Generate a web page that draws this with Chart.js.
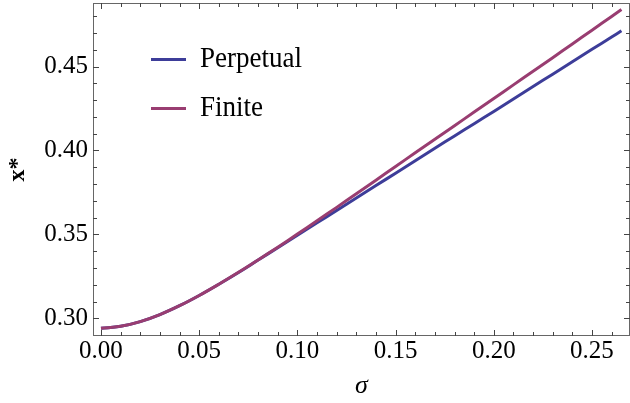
<!DOCTYPE html>
<html>
<head>
<meta charset="utf-8">
<script src="https://cdn.jsdelivr.net/npm/chart.js@4"></script>
<style>
  html, body { margin: 0; padding: 0; background: #fff; }
  #wrap { width: 630px; height: 403px; }
</style>
</head>
<body>
<div id="wrap"><canvas id="chart" width="630" height="403"></canvas></div>
<script>
// values
const sigma = [0.00, 0.01, 0.02, 0.03, 0.04, 0.05, 0.06, 0.07, 0.08, 0.09,
               0.10, 0.11, 0.12, 0.13, 0.14, 0.15, 0.16, 0.17, 0.18, 0.19,
               0.20, 0.21, 0.22, 0.23, 0.24, 0.25, 0.26, 0.265];
const perpetual = [0.2940, 0.2952, 0.2980, 0.3022, 0.3075, 0.3136, 0.3203, 0.3273, 0.3347, 0.3421,
                   0.3495, 0.3569, 0.3643, 0.3717, 0.3791, 0.3865, 0.3939, 0.4013, 0.4087, 0.4160,
                   0.4233, 0.4307, 0.4381, 0.4455, 0.4529, 0.4603, 0.4676, 0.4713];
const finite = [0.2940, 0.2952, 0.2980, 0.3022, 0.3075, 0.3136, 0.3203, 0.3274, 0.3348, 0.3424,
                0.3502, 0.3581, 0.3661, 0.3742, 0.3823, 0.3905, 0.3986, 0.4067, 0.4148, 0.4229,
                0.4310, 0.4391, 0.4472, 0.4553, 0.4635, 0.4717, 0.4799, 0.4840];
const seriesNames = ['Perpetual', 'Finite'];
const xTicks = [0.00, 0.05, 0.10, 0.15, 0.20, 0.25];
const yTicks = [0.30, 0.35, 0.40, 0.45];

const toPoints = ys => sigma.map((s, i) => ({ x: s, y: ys[i] }));

// box frame with inward major/minor ticks on all four sides
const framePlugin = {
  id: 'frame',
  afterDatasetsDraw(chart) {
    const { ctx, chartArea: a, scales: { x, y } } = chart;
    ctx.save();
    ctx.strokeStyle = '#666';
    ctx.lineWidth = 1;
    ctx.strokeRect(a.left + 0.5, a.top + 0.5, a.right - a.left - 1, a.bottom - a.top - 1);
    ctx.strokeStyle = '#444';
    ctx.beginPath();
    for (let k = 0; k <= 27; k++) {
      const v = k / 100;
      const px = Math.round(x.getPixelForValue(v)) + 0.5;
      if (px <= a.left + 1 || px >= a.right - 1) continue;
      const len = k % 5 === 0 ? 6 : 4;
      ctx.moveTo(px, a.bottom); ctx.lineTo(px, a.bottom - len);
      ctx.moveTo(px, a.top); ctx.lineTo(px, a.top + len);
    }
    for (let k = 29; k <= 48; k++) {
      const v = k / 100;
      const py = Math.round(y.getPixelForValue(v)) + 0.5;
      if (py <= a.top + 1 || py >= a.bottom - 1) continue;
      const len = k % 5 === 0 ? 6 : 4;
      ctx.moveTo(a.left, py); ctx.lineTo(a.left + len, py);
      ctx.moveTo(a.right, py); ctx.lineTo(a.right - len, py);
    }
    ctx.stroke();
    ctx.restore();
  }
};

// legend drawn inside the plot area
const insideLegend = {
  id: 'insideLegend',
  afterDatasetsDraw(chart) {
    const { ctx, chartArea: a } = chart;
    ctx.save();
    chart.data.datasets.forEach((ds, i) => {
      const ly = a.top + 56.5 + i * 49;
      ctx.strokeStyle = ds.borderColor;
      ctx.lineWidth = 3;
      ctx.beginPath();
      ctx.moveTo(a.left + 58, ly);
      ctx.lineTo(a.left + 93, ly);
      ctx.stroke();
      ctx.save();
      ctx.translate(a.left + 107, a.top + 64 + i * 48.5);
      ctx.scale(0.9, 1);
      ctx.fillStyle = '#000';
      ctx.font = '30px "Liberation Serif"';
      ctx.textBaseline = 'alphabetic';
      ctx.fillText(ds.label, 0, 0);
      ctx.restore();
    });
    ctx.restore();
  }
};

const noEdgePadding = s => {
  s.paddingTop = 0; s.paddingBottom = 0;
  s.paddingLeft = 0; s.paddingRight = 0;
};

new Chart(document.getElementById('chart').getContext('2d'), {
  type: 'line',
  data: {
    datasets: [{
      label: seriesNames[0],
      data: toPoints(perpetual),
      borderColor: '#3d3d99',
      borderWidth: 3,
      pointRadius: 0,
      tension: 0.4,
      fill: false,
      order: 1
    }, {
      label: seriesNames[1],
      data: toPoints(finite),
      borderColor: '#993d71',
      borderWidth: 3,
      pointRadius: 0,
      tension: 0.4,
      fill: false,
      order: 0
    }]
  },
  options: {
    responsive: false,
    devicePixelRatio: 1,
    animation: false,
    layout: { padding: { top: 3, right: 0, bottom: 0, left: 0 } },
    plugins: {
      legend: { display: false },
      tooltip: { enabled: false }
    },
    scales: {
      x: {
        type: 'linear',
        min: -0.00407,
        max: 0.26935,
        grid: { display: false, drawTicks: false },
        border: { display: false },
        afterBuildTicks: s => { s.ticks = xTicks.map(v => ({ value: v })); },
        afterFit: s => { s.height = 67; noEdgePadding(s); },
        ticks: {
          padding: 0,
          color: '#000',
          font: { family: '"Liberation Serif"', size: 25 },
          callback: v => v.toFixed(2)
        },
        title: {
          display: true,
          text: 'σ',
          color: '#000',
          padding: { top: 0, bottom: 4 },
          font: { family: '"Liberation Serif"', size: 26, style: 'italic', lineHeight: 1 }
        }
      },
      y: {
        type: 'linear',
        min: 0.28945,
        max: 0.4879,
        grid: { display: false, drawTicks: false },
        border: { display: false },
        afterBuildTicks: s => { s.ticks = yTicks.map(v => ({ value: v })); },
        afterFit: s => { s.width = 93; noEdgePadding(s); },
        ticks: {
          padding: 5,
          color: '#000',
          font: { family: '"Liberation Serif"', size: 25 },
          callback: v => v.toFixed(2)
        },
        title: {
          display: true,
          text: 'x*',
          color: '#000',
          padding: { top: 6, bottom: 0 },
          font: { family: '"Liberation Serif"', size: 24, weight: 'bold', lineHeight: 1 }
        }
      }
    }
  },
  plugins: [framePlugin, insideLegend]
});
</script>
</body>
</html>
